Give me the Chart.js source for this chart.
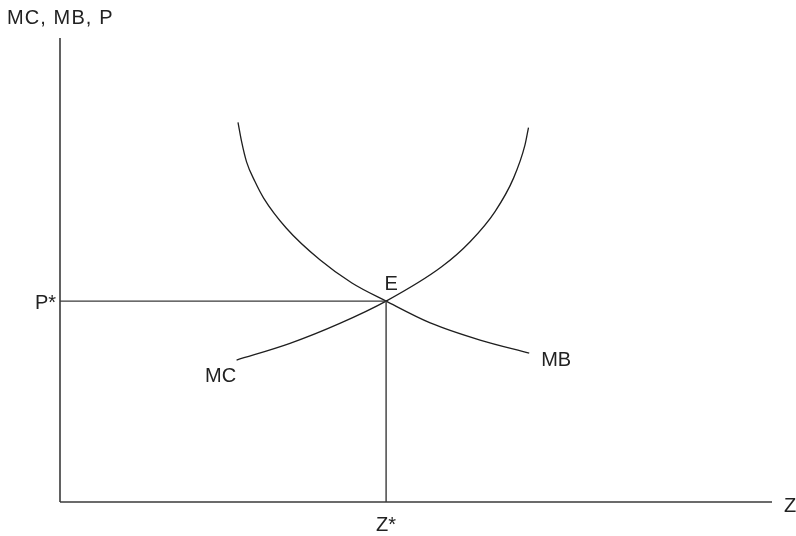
<!DOCTYPE html>
<html>
<head>
<meta charset="utf-8">
<script src="https://cdn.jsdelivr.net/npm/chart.js@4/dist/chart.umd.min.js"></script>
<style>
html,body{margin:0;padding:0;background:#fff;}
#c{display:block;}
</style>
</head>
<body>
<canvas id="c" width="796" height="536"></canvas>
<script>
// Marginal benefit curve (Z, value)
const mbZ = [25.0, 25.5, 26.2, 27.4, 28.6, 31.8, 36.5, 41.0, 45.8, 52.0, 59.0, 65.9];
const mbV = [81.8, 77.7, 73.3, 69.0, 65.5, 59.0, 52.2, 47.2, 43.3, 38.6, 34.9, 32.1];
// Marginal cost curve (Z, value)
const mcZ = [24.8, 32.3, 39.3, 45.8, 53.6, 57.6, 61.1, 63.7, 65.3, 65.8];
const mcV = [30.6, 34.2, 38.5, 43.3, 50.7, 56.1, 62.6, 69.8, 76.9, 80.7];
// Equilibrium
const zStar = 45.8;
const pStar = 43.3;
// Axis extents
const axisMax = [100, 100];
// Text labels
const axisTitleY = "MC, MB, P";
const axisTitleX = "Z";
const labelPStar = "P*";
const labelZStar = "Z*";
const labelE = "E";
const labelMC = "MC";
const labelMB = "MB";

const toPts = (xs, ys) => xs.map((x, i) => ({x: x, y: ys[i]}));

const FONT = '20px "Liberation Sans", Arial, sans-serif';
const TXT = '#222';

const labelPlugin = {
  id: 'labels',
  afterDraw(chart) {
    const ctx = chart.ctx;
    const xs = chart.scales.x, ys = chart.scales.y;
    const px = v => xs.getPixelForValue(v);
    const py = v => ys.getPixelForValue(v);
    ctx.save();
    ctx.fillStyle = TXT;
    ctx.font = FONT;
    ctx.textBaseline = 'alphabetic';
    // y-axis title
    try { ctx.letterSpacing = '1.1px'; } catch (e) {}
    ctx.textAlign = 'left';
    ctx.fillText(axisTitleY, px(0) - 53, py(axisMax[1]) - 14);
    try { ctx.letterSpacing = '0px'; } catch (e) {}
    // x-axis title
    ctx.textAlign = 'left';
    ctx.fillText(axisTitleX, px(axisMax[0]) + 12, py(0) + 10);
    // P*
    ctx.textAlign = 'right';
    ctx.fillText(labelPStar, px(0) - 4, py(pStar) + 8);
    // Z*
    ctx.textAlign = 'center';
    ctx.fillText(labelZStar, px(zStar), py(0) + 29);
    // E
    ctx.textAlign = 'center';
    ctx.fillText(labelE, px(zStar) + 5, py(pStar) - 11);
    // MC
    ctx.textAlign = 'center';
    ctx.fillText(labelMC, px(mcZ[0]) - 16, py(mcV[0]) + 22);
    // MB
    ctx.textAlign = 'left';
    ctx.fillText(labelMB, px(mbZ[mbZ.length - 1]) + 12, py(mbV[mbV.length - 1]) + 13);
    ctx.restore();
  }
};

const curveStyle = {
  borderColor: '#1e1e1e',
  borderWidth: 1.3,
  pointRadius: 0,
  fill: false,
  cubicInterpolationMode: 'monotone',
  clip: false
};
const axisStyle = {
  borderColor: '#3a3a3a',
  borderWidth: 1.6,
  pointRadius: 0,
  fill: false,
  tension: 0,
  clip: false
};
const guideStyle = {
  borderColor: '#3a3a3a',
  borderWidth: 1.4,
  pointRadius: 0,
  fill: false,
  tension: 0,
  clip: false
};

new Chart(document.getElementById('c'), {
  type: 'line',
  data: {
    datasets: [
      Object.assign({label: 'y-axis', data: [{x: 0, y: 0}, {x: 0, y: axisMax[1]}]}, axisStyle),
      Object.assign({label: 'x-axis', data: [{x: 0, y: 0}, {x: axisMax[0], y: 0}]}, axisStyle),
      Object.assign({label: 'P* guide', data: [{x: 0, y: pStar}, {x: zStar, y: pStar}]}, guideStyle),
      Object.assign({label: 'Z* guide', data: [{x: zStar, y: 0}, {x: zStar, y: pStar}]}, guideStyle),
      Object.assign({label: 'MB', data: toPts(mbZ, mbV)}, curveStyle),
      Object.assign({label: 'MC', data: toPts(mcZ, mcV)}, curveStyle)
    ]
  },
  options: {
    responsive: false,
    animation: false,
    events: [],
    layout: {padding: {left: 60, right: 24, top: 38, bottom: 34}},
    plugins: {legend: {display: false}, tooltip: {enabled: false}},
    scales: {
      x: {type: 'linear', min: 0, max: axisMax[0], display: false},
      y: {type: 'linear', min: 0, max: axisMax[1], display: false}
    }
  },
  plugins: [labelPlugin]
});
</script>
</body>
</html>
